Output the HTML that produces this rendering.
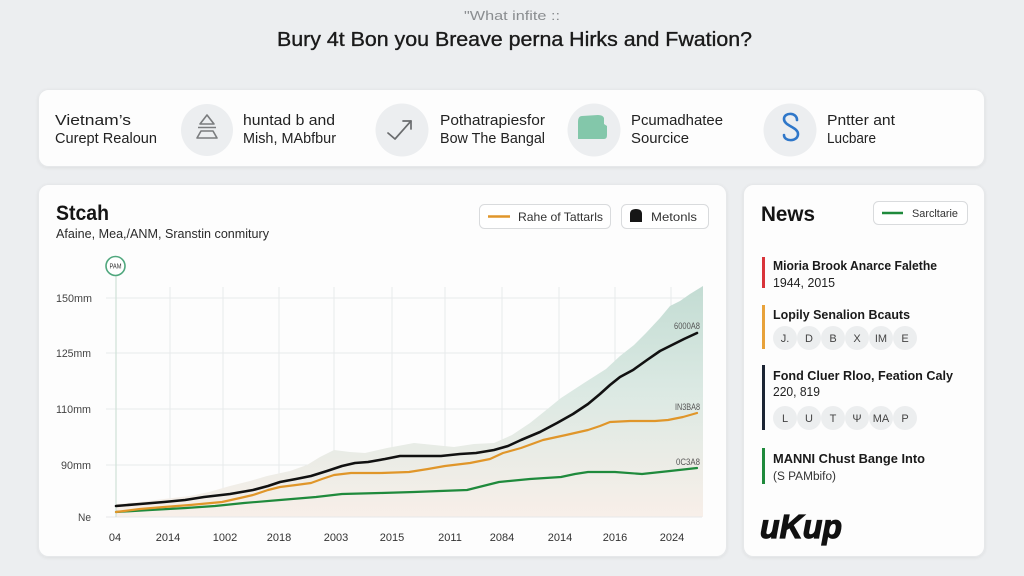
<!DOCTYPE html>
<html>
<head>
<meta charset="utf-8">
<style>
  html,body{margin:0;padding:0;background:#eceef0;}
  svg{display:block;}
  text{font-family:"Liberation Sans",sans-serif;}
</style>
</head>
<body>
<svg width="1024" height="576" viewBox="0 0 1024 576" xmlns="http://www.w3.org/2000/svg">
  <defs>
    <filter id="sh" x="-5%" y="-5%" width="110%" height="115%">
      <feDropShadow dx="0" dy="1" stdDeviation="1.5" flood-color="#000" flood-opacity="0.07"/>
    </filter>
    <linearGradient id="ag" x1="0" y1="286" x2="0" y2="517" gradientUnits="userSpaceOnUse">
      <stop offset="0" stop-color="#c3dcd3"/>
      <stop offset="0.45" stop-color="#dbe9e3"/>
      <stop offset="1" stop-color="#f8efe9"/>
    </linearGradient>
  </defs>

  <rect x="0" y="0" width="1024" height="576" fill="#eceef0"/>

  <!-- Header -->
  <text x="512" y="20" text-anchor="middle" font-size="13" fill="#8a8d90" textLength="96" lengthAdjust="spacingAndGlyphs">"What infite ::</text>
  <text x="277" y="46" font-size="20" fill="#1a1a1a" stroke="#1a1a1a" stroke-width="0.35" textLength="475" lengthAdjust="spacingAndGlyphs">Bury 4t Bon you Breave perna Hirks and Fwation?</text>

  <!-- Top card -->
  <rect x="38.5" y="89.5" width="946" height="77" rx="10" fill="#fdfdfd" stroke="#e6e8ea" filter="url(#sh)"/>
  <g font-size="15" fill="#222">
    <text x="55" y="125" textLength="76" lengthAdjust="spacingAndGlyphs">Vietnam’s</text>
    <text x="55" y="143" textLength="102" lengthAdjust="spacingAndGlyphs">Curept Realoun</text>
    <text x="243" y="125" textLength="92" lengthAdjust="spacingAndGlyphs">huntad b and</text>
    <text x="243" y="143" textLength="93" lengthAdjust="spacingAndGlyphs">Mish, MAbfbur</text>
    <text x="440" y="125" textLength="105" lengthAdjust="spacingAndGlyphs">Pothatrapiesfor</text>
    <text x="440" y="143" textLength="105" lengthAdjust="spacingAndGlyphs">Bow The Bangal</text>
    <text x="631" y="125" textLength="92" lengthAdjust="spacingAndGlyphs">Pcumadhatee</text>
    <text x="631" y="143" textLength="58" lengthAdjust="spacingAndGlyphs">Sourcice</text>
    <text x="827" y="125" textLength="68" lengthAdjust="spacingAndGlyphs">Pntter ant</text>
    <text x="827" y="143" textLength="49" lengthAdjust="spacingAndGlyphs">Lucbare</text>
  </g>
  <!-- icons -->
  <circle cx="207" cy="130" r="26" fill="#eceef0"/>
  <g fill="none" stroke="#7a7c7e" stroke-width="1.6" stroke-linejoin="round">
    <path d="M200 124 L207 115 L214 124 Z"/>
    <path d="M198 127.5 L216 127.5"/>
    <path d="M201 131 L213 131 L217 138 L197 138 Z"/>
  </g>
  <circle cx="402" cy="130" r="26.5" fill="#eceef0"/>
  <g fill="none" stroke="#6a6c6e" stroke-width="1.7" stroke-linecap="round" stroke-linejoin="round">
    <path d="M388 133 L395 139 L411 121"/>
    <path d="M403 121 L411 121 L411 129"/>
  </g>
  <circle cx="594" cy="130" r="26.5" fill="#eceef0"/>
  <path d="M582 116 Q578 116 578 122 L578 139 L604 139 Q607 139 607 135 L607 126 L604 124 L604 118 Q603 115 598 115 Z" fill="#83c7aa"/>
  <circle cx="790" cy="130" r="26.5" fill="#eceef0"/>
  <path d="M797 120 C797 112 784 112 784 119 C784 126 798 127 798 134 C798 142 784 142 784 135" fill="none" stroke="#2f77c9" stroke-width="2.6" stroke-linecap="round"/>

  <!-- Main chart card -->
  <rect x="38.5" y="184.5" width="688" height="372" rx="10" fill="#fdfdfd" stroke="#e6e8ea" filter="url(#sh)"/>
  <text x="56" y="220" font-size="21" font-weight="bold" fill="#151515" textLength="53" lengthAdjust="spacingAndGlyphs">Stcah</text>
  <text x="56" y="238" font-size="13" fill="#2a2a2a" textLength="213" lengthAdjust="spacingAndGlyphs">Afaine, Mea,/ANM, Sranstin conmitury</text>

  <!-- legend buttons -->
  <rect x="479.5" y="204.5" width="131" height="24" rx="5" fill="#fff" stroke="#d9dbdd"/>
  <line x1="488" y1="216.5" x2="510" y2="216.5" stroke="#e0962a" stroke-width="2.5"/>
  <text x="518" y="221" font-size="12" fill="#333" textLength="85" lengthAdjust="spacingAndGlyphs">Rahe of Tattarls</text>
  <rect x="621.5" y="204.5" width="87" height="24" rx="5" fill="#fff" stroke="#d9dbdd"/>
  <path d="M630 222 L630 214 Q630 209 636 209 Q642 209 642 214 L642 222 Z" fill="#161616"/>
  <text x="651" y="221" font-size="12" fill="#333" textLength="46" lengthAdjust="spacingAndGlyphs">Metonls</text>

  <!-- grid -->
  <g stroke="#e8eaeb" stroke-width="1">
    <line x1="106" y1="298" x2="702" y2="298"/>
    <line x1="106" y1="353" x2="702" y2="353"/>
    <line x1="106" y1="409" x2="702" y2="409"/>
    <line x1="106" y1="465" x2="702" y2="465"/>
    <line x1="170" y1="287" x2="170" y2="517"/>
    <line x1="223" y1="287" x2="223" y2="517"/>
    <line x1="279" y1="287" x2="279" y2="517"/>
    <line x1="334" y1="287" x2="334" y2="517"/>
    <line x1="392" y1="287" x2="392" y2="517"/>
    <line x1="445" y1="287" x2="445" y2="517"/>
    <line x1="502" y1="287" x2="502" y2="517"/>
    <line x1="559" y1="287" x2="559" y2="517"/>
    <line x1="615" y1="287" x2="615" y2="517"/>
    <line x1="671" y1="287" x2="671" y2="517"/>
  </g>

  <!-- area -->
  <polygon fill="url(#ag)" points="116,504 140,502 164,499 190,496 209,492 230,486 250,481 267,476 290,471 307,465 320,457 334,450 350,452 365,453 387,448 414,443 434,445 454,447 474,444 494,443 512,435 530,423 545,411 561,398 584,383 606,369 620,356 634,345 646,333 660,318 670,306 680,301 690,294 703,286 703,517 116,517"/>
  <line x1="106" y1="517" x2="702" y2="517" stroke="#e6e8e9"/>

  <!-- marker -->
  <line x1="116" y1="276" x2="116" y2="517" stroke="#cfe2d8" stroke-width="1.2"/>
  <circle cx="115.5" cy="266" r="9.5" fill="#fff" stroke="#4fa77d" stroke-width="1.6"/>
  <text x="115.5" y="268.5" font-size="7" text-anchor="middle" fill="#333" textLength="12" lengthAdjust="spacingAndGlyphs">PAM</text>

  <!-- lines -->
  <g fill="none" stroke-linejoin="round" stroke-linecap="round">
    <polyline stroke="#1f8a3c" stroke-width="2.2" points="116,512 150,510 186,508 215,506 244,503 280,500 316,497 342,494 380,493 414,492 440,491 467,490 483,486 499,482 530,479 561,477 575,474 588,472 615,472 642,474 670,471 697,468"/>
    <polyline stroke="#e0962a" stroke-width="2.2" points="116,512 140,509 164,507 190,505 222,502 240,498 253,495 268,490 280,487 296,485 311,483 322,479 334,475 351,473 380,473 409,472 428,469 445,466 470,463 490,459 503,453 521,448 543,440 566,435 588,430 600,426 610,422 630,421 655,421 668,420 683,417 697,413"/>
    <polyline stroke="#111" stroke-width="2.6" points="116,506 140,504 164,502 185,500 204,497 230,494 253,490 268,486 280,482 296,479 311,476 327,471 342,466 355,463 368,462 385,459 400,456 420,456 441,456 460,454 476,453 494,450 508,446 521,440 540,432 557,423 573,414 588,404 600,394 610,385 620,377 633,370 647,360 660,351 670,346 684,339 697,333"/>
  </g>
  <g font-size="9" fill="#555">
    <text x="674" y="329" textLength="26" lengthAdjust="spacingAndGlyphs">6000A8</text>
    <text x="675" y="410" textLength="25" lengthAdjust="spacingAndGlyphs">IN3BA8</text>
    <text x="676" y="465" textLength="24" lengthAdjust="spacingAndGlyphs">0C3A8</text>
  </g>

  <!-- axis labels -->
  <g font-size="11" fill="#444">
    <text x="56" y="302" textLength="36" lengthAdjust="spacingAndGlyphs">150mm</text>
    <text x="56" y="357" textLength="35" lengthAdjust="spacingAndGlyphs">125mm</text>
    <text x="56" y="413" textLength="35" lengthAdjust="spacingAndGlyphs">110mm</text>
    <text x="61" y="469" textLength="30" lengthAdjust="spacingAndGlyphs">90mm</text>
    <text x="78" y="521" textLength="13" lengthAdjust="spacingAndGlyphs">Ne</text>
  </g>
  <g font-size="11" fill="#333" text-anchor="middle">
    <text x="115" y="541">04</text>
    <text x="168" y="541">2014</text>
    <text x="225" y="541">1002</text>
    <text x="279" y="541">2018</text>
    <text x="336" y="541">2003</text>
    <text x="392" y="541">2015</text>
    <text x="450" y="541">2011</text>
    <text x="502" y="541">2084</text>
    <text x="560" y="541">2014</text>
    <text x="615" y="541">2016</text>
    <text x="672" y="541">2024</text>
  </g>

  <!-- Right card -->
  <rect x="743.5" y="184.5" width="241" height="372" rx="10" fill="#fdfdfd" stroke="#e6e8ea" filter="url(#sh)"/>
  <text x="761" y="221" font-size="21" font-weight="bold" fill="#151515" textLength="54" lengthAdjust="spacingAndGlyphs">News</text>
  <rect x="873.5" y="201.5" width="94" height="23" rx="5" fill="#fff" stroke="#d9dbdd"/>
  <line x1="882" y1="213" x2="903" y2="213" stroke="#1f8a3c" stroke-width="2.5"/>
  <text x="912" y="217" font-size="11" fill="#333" textLength="46" lengthAdjust="spacingAndGlyphs">Sarcltarie</text>

  <rect x="762" y="257" width="3" height="31" fill="#d9343a"/>
  <text x="773" y="270" font-size="13" font-weight="bold" fill="#1a1a1a" textLength="164" lengthAdjust="spacingAndGlyphs">Mioria Brook Anarce Falethe</text>
  <text x="773" y="287" font-size="12.5" fill="#222" textLength="62" lengthAdjust="spacingAndGlyphs">1944, 2015</text>

  <rect x="762" y="305" width="3" height="44" fill="#e8a23a"/>
  <text x="773" y="319" font-size="13" font-weight="bold" fill="#1a1a1a" textLength="137" lengthAdjust="spacingAndGlyphs">Lopily Senalion Bcauts</text>
  <g fill="#eceeef">
    <circle cx="785" cy="338" r="12"/><circle cx="809" cy="338" r="12"/><circle cx="833" cy="338" r="12"/>
    <circle cx="857" cy="338" r="12"/><circle cx="881" cy="338" r="12"/><circle cx="905" cy="338" r="12"/>
  </g>
  <g font-size="11" fill="#444" text-anchor="middle" style="font-family:'Liberation Serif',serif">
    <text x="785" y="342">J.</text><text x="809" y="342">D</text><text x="833" y="342">B</text>
    <text x="857" y="342">X</text><text x="881" y="342">IM</text><text x="905" y="342">E</text>
  </g>

  <rect x="762" y="365" width="3" height="65" fill="#1b2433"/>
  <text x="773" y="380" font-size="13" font-weight="bold" fill="#1a1a1a" textLength="180" lengthAdjust="spacingAndGlyphs">Fond Cluer Rloo, Feation Caly</text>
  <text x="773" y="396" font-size="12.5" fill="#222" textLength="47" lengthAdjust="spacingAndGlyphs">220, 819</text>
  <g fill="#eceeef">
    <circle cx="785" cy="418" r="12"/><circle cx="809" cy="418" r="12"/><circle cx="833" cy="418" r="12"/>
    <circle cx="857" cy="418" r="12"/><circle cx="881" cy="418" r="12"/><circle cx="905" cy="418" r="12"/>
  </g>
  <g font-size="11" fill="#444" text-anchor="middle" style="font-family:'Liberation Serif',serif">
    <text x="785" y="422">L</text><text x="809" y="422">U</text><text x="833" y="422">T</text>
    <text x="857" y="422">Ψ</text><text x="881" y="422">MA</text><text x="905" y="422">P</text>
  </g>

  <rect x="762" y="448" width="3" height="36" fill="#1f8a3c"/>
  <text x="773" y="463" font-size="13" font-weight="bold" fill="#1a1a1a" textLength="152" lengthAdjust="spacingAndGlyphs">MANNI Chust Bange Into</text>
  <text x="773" y="480" font-size="11.5" fill="#333" textLength="63" lengthAdjust="spacingAndGlyphs">(S PAMbifo)</text>

  <text x="760" y="538" font-size="33" font-weight="bold" font-style="italic" fill="#111" stroke="#111" stroke-width="1.2" textLength="82" lengthAdjust="spacingAndGlyphs">uKup</text>
</svg>
</body>
</html>
